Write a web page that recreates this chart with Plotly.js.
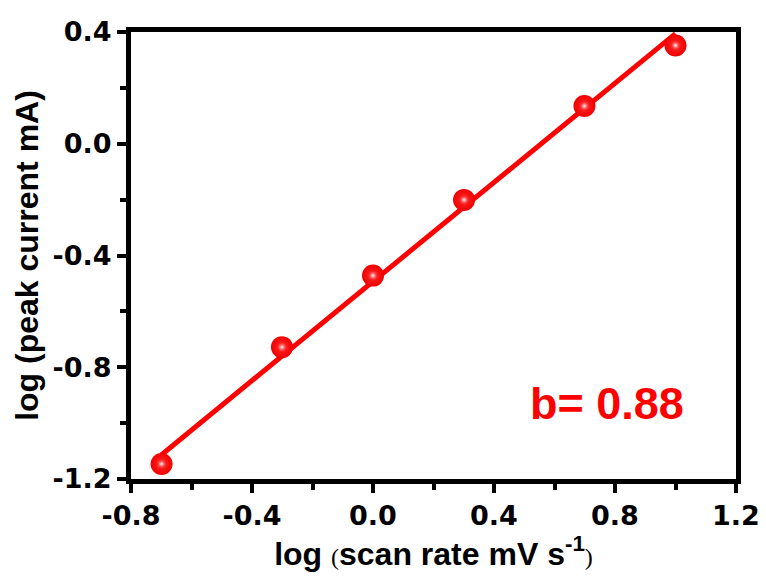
<!DOCTYPE html>
<html>
<head>
<meta charset="utf-8">
<script src="https://cdn.plot.ly/plotly-3.0.1.min.js"></script>
<style>html,body{margin:0;padding:0;background:#fff;}#chart{width:766px;height:581px;}</style>
</head>
<body>
<div id="chart"></div>
<script>
// log(scan rate) and log(peak current)
const logScanRate = [-0.699, -0.301, 0.0, 0.301, 0.699, 1.0];
const logPeakCurrent = [-1.146, -0.728, -0.472, -0.201, 0.135, 0.352];
// linear-fit line endpoints
const fitX = [-0.7, 1.0];
const fitY = [-1.114, 0.394];
const slopeLabel = 'b= 0.88';
const xTicks = [-0.8, -0.4, 0.0, 0.4, 0.8, 1.2];
const xTickText = ['-0.8', '-0.4', '0.0', '0.4', '0.8', '1.2'];
const yTicks = [-1.2, -0.8, -0.4, 0.0, 0.4];
const yTickText = ['-1.2', '-0.8', '-0.4', '0.0', '0.4'];

const font = 'Liberation Sans, Arial, sans-serif';
const tickFont = 'DejaVu Sans, sans-serif';

const traces = [
  {x: fitX, y: fitY, mode: 'lines', line: {color: '#ff0000', width: 5}, hoverinfo: 'skip', showlegend: false},
  {x: logScanRate, y: logPeakCurrent, mode: 'markers',
   marker: {size: 22, color: '#f00000', gradient: {type: 'radial', color: '#ff2a2a'}, line: {width: 0}},
   showlegend: false},
  {x: logScanRate, y: logPeakCurrent, mode: 'markers',
   marker: {size: 11, color: 'rgba(255,30,30,0)', gradient: {type: 'radial', color: '#ffffff'}, line: {width: 0}},
   showlegend: false, hoverinfo: 'skip'}
];

const axisCommon = {
  showline: true, linewidth: 5, linecolor: '#000', mirror: true,
  ticks: 'outside', ticklen: 9, tickwidth: 4, tickcolor: '#000',
  showgrid: false, zeroline: false,
  tickfont: {family: tickFont, size: 27, color: '#000', weight: 'bold'},
  minor: {ticks: 'outside', ticklen: 6, tickwidth: 4, tickcolor: '#000', dtick: 0.2, showgrid: false}
};

const layout = {
  width: 766, height: 581,
  margin: {l: 131, r: 30, t: 32, b: 102},
  paper_bgcolor: '#fff', plot_bgcolor: '#fff',
  font: {family: font, color: '#000'},
  xaxis: Object.assign({}, axisCommon, {
    range: [-0.8, 1.2], tickvals: xTicks, ticktext: xTickText,
    title: {text: 'log <span style="font-family:Liberation Serif;font-weight:normal;font-size:24px">(</span>scan rate mV s<sup>-1</sup><span style="font-family:Liberation Serif;font-weight:normal;font-size:24px">)</span>',
            font: {family: font, size: 32, color: '#000', weight: 'bold'}, standoff: 12}
  }),
  yaxis: Object.assign({}, axisCommon, {
    range: [-1.2, 0.4], tickvals: yTicks, ticktext: yTickText,
    title: {text: 'log (peak current mA)', font: {family: font, size: 32, color: '#000', weight: 'bold'}, standoff: 6}
  }),
  annotations: [{
    x: 0.774, y: -0.931, xref: 'x', yref: 'y', text: slopeLabel, showarrow: false,
    font: {family: font, size: 45, color: '#ff0000', weight: 'bold'}
  }]
};

Plotly.newPlot('chart', traces, layout, {displayModeBar: false, staticPlot: true});
</script>
</body>
</html>
